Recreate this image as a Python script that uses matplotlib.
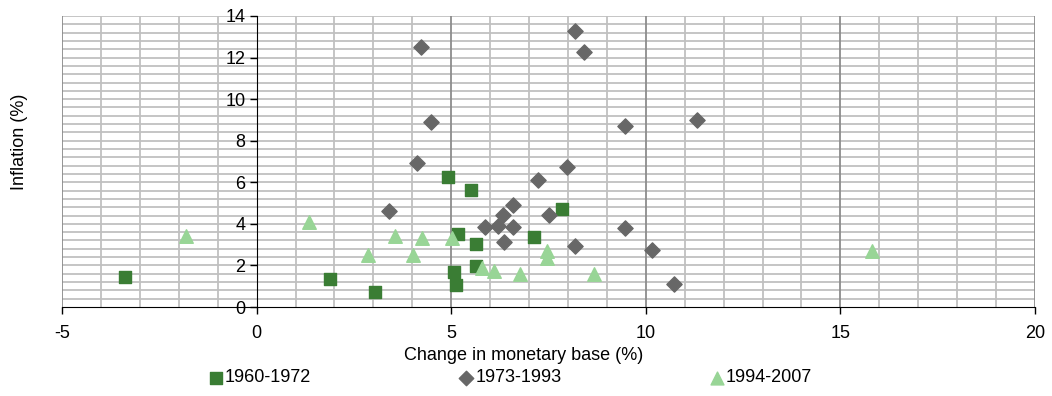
import numpy as np
import matplotlib.pyplot as plt
from matplotlib.ticker import MultipleLocator

plt.rcParams['font.family'] = ['Liberation Sans Narrow', 'Liberation Sans', 'DejaVu Sans']
plt.rcParams['axes.unicode_minus'] = False

# data
x_6072 = [-3.39, 1.89, 3.04, 4.92, 5.51, 7.84, 5.17, 5.65, 7.14, 5.65, 5.08, 5.13]
y_6072 = [1.45, 1.34, 0.73, 6.24, 5.63, 4.73, 3.50, 3.03, 3.36, 1.98, 1.66, 1.05]

x_7393 = [4.23, 8.19, 8.40, 4.48, 9.47, 11.32, 4.12, 7.97, 7.23, 3.40, 6.59, 6.32,
          7.51, 5.88, 6.20, 6.59, 9.46, 6.35, 8.19, 10.16, 10.72]
y_7393 = [12.5, 13.29, 12.28, 8.88, 8.71, 9.01, 6.93, 6.72, 6.13, 4.64, 4.93, 4.41,
          4.43, 3.84, 3.92, 3.84, 3.82, 3.13, 2.94, 2.73, 1.13]

x_9407 = [-1.82, 1.34, 2.87, 3.55, 4.26, 5.03, 4.01, 7.47, 7.47, 5.80, 6.11, 6.77, 8.68, 15.80]
y_9407 = [3.40, 4.08, 2.49, 3.40, 3.32, 3.32, 2.49, 2.70, 2.38, 1.88, 1.71, 1.61, 1.61, 2.70]

fs = 13

fig = plt.figure(figsize=(10.52, 3.96), dpi=100)
ax = fig.add_axes([62 / 1052, 1 - 307 / 396, 973 / 1052, 291 / 396])

ax.set_xlim(-5, 20)
ax.set_ylim(0, 14)

# gridlines
for yy in np.arange(0.4, 14.01, 0.4):
    ax.axhline(yy, color='#c0c0c0', lw=1.3, zorder=0)
for xx in range(-5, 21):
    if xx == 0:
        continue
    c = '#8c8c8c' if xx % 5 == 0 else '#c0c0c0'
    ax.axvline(xx, color=c, lw=1.3, zorder=0)

ax.scatter(x_6072, y_6072, marker='s', s=85, color='#3a7d34', zorder=3, label='1960-1972')
ax.scatter(x_7393, y_7393, marker='D', s=60, color='#676767', zorder=3, label='1973-1993')
ax.scatter(x_9407, y_9407, marker='^', s=95, color='#98d596', zorder=3, label='1994-2007')

for s in ['top', 'right']:
    ax.spines[s].set_visible(False)
ax.spines['left'].set_position(('data', 0))
ax.spines['left'].set_color('black')
ax.spines['bottom'].set_color('black')

ax.xaxis.set_major_locator(MultipleLocator(5))
ax.yaxis.set_major_locator(MultipleLocator(2))
ax.tick_params(axis='both', labelsize=fs, direction='out', length=5, width=1, color='black')
ax.tick_params(axis='x', pad=8)
ax.tick_params(axis='y', pad=3)

fig.text(524 / 1052, 1 - 355 / 396, 'Change in monetary base (%)', ha='center', va='center', fontsize=fs)
fig.text(20 / 1052, 1 - 142 / 396, 'Inflation (%)', ha='center', va='center', rotation=90, fontsize=fs)

fig.legend(loc='center', bbox_to_anchor=(0.485, 1 - 378 / 396), ncol=3, frameon=False,
           fontsize=fs, handletextpad=0.1, columnspacing=8.2, handlelength=0.8,
           borderaxespad=0, markerscale=0.95)

fig.savefig('out.png', dpi=100)
